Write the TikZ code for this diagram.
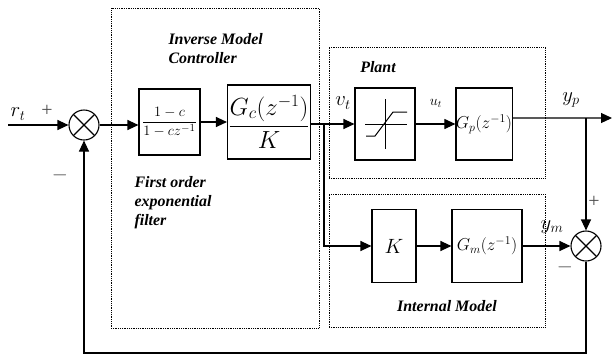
\documentclass[tikz,border=0pt]{standalone}
\usepackage{fontspec}
\setmainfont{Liberation Serif}
\usetikzlibrary{arrows.meta,positioning}

\begin{document}
\begin{tikzpicture}[
  x=1bp,y=-1bp,
  blk/.style={rectangle,draw,line width=1.1bp,inner sep=1bp},
  group/.style={rectangle,draw,densely dotted,line width=0.8bp},
  sumnode/.style={circle,draw,line width=1.1bp,minimum size=30bp,inner sep=0pt,
    path picture={\draw[line width=1.1bp]
      (path picture bounding box.north west) -- (path picture bounding box.south east)
      (path picture bounding box.north east) -- (path picture bounding box.south west);}},
  lbl/.style={font=\fontsize{16}{19}\selectfont\bfseries\itshape,align=left},
  sig/.style={font=\fontsize{20}{22}\selectfont},
  sign/.style={font=\fontsize{20}{22}\selectfont,text=black!70},
  arr/.style={-{Triangle[length=11bp,width=10bp]},line width=1.1bp}
]
  \useasboundingbox (0,0) rectangle (612,356);

  \node[group,minimum width=208bp,minimum height=320bp] (ctrl) at (215,168) {};
  \node[group,minimum width=216bp,minimum height=131bp] (plant) at (437,112.5) {};
  \node[group,minimum width=216bp,minimum height=133bp] (imodel) at (437,260.5) {};

  \node[sumnode] (sum1) at (84,125) {};
  \node[blk,minimum width=61bp,minimum height=66bp,font=\fontsize{15}{17}\selectfont] (filt) at (169.5,122)
    {$\displaystyle\frac{1-c}{1-cz^{-1}}$};
  \node[blk,minimum width=80bp,minimum height=74bp,font=\fontsize{23}{25}\selectfont] (gc) at (269,122)
    {$\displaystyle\frac{G_c(z^{-1})}{K}$};
  \node[blk,minimum width=60bp,minimum height=72bp] (sat) at (385,124) {};
  \node[blk,minimum width=54bp,minimum height=72bp,inner sep=0pt,font=\fontsize{18}{20}\selectfont] (gp) at (484,124)
    {$G_p(z^{-1})$};
  \node[blk,minimum width=44bp,minimum height=73bp,font=\fontsize{20}{22}\selectfont] (kb) at (394,246) {$K$};
  \node[blk,minimum width=70bp,minimum height=73bp,inner sep=0pt,font=\fontsize{18}{20}\selectfont] (gm) at (487,246)
    {$G_m(z^{-1})$};
  \node[sumnode] (sum2) at (586,246) {};

  \draw[line width=1bp] ([shift={(0,-25)}]sat.center) -- ([shift={(0,25)}]sat.center);
  \draw[line width=1bp] ([shift={(-20,0)}]sat.center) -- ([shift={(22,0)}]sat.center);
  \draw[line width=1bp] ([shift={(-19,12)}]sat.center) -- ++(9,0) -- ++(18,-24) -- ++(14,0);

  \coordinate (rin) at (8,125);
  \coordinate (split) at (324,124);
  \coordinate (yout) at (612,118);
  \coordinate (ybr) at (586,118);
  \coordinate (fb) at (83,353);

  \draw[arr] (rin) -- (sum1);
  \draw[arr] (sum1) -- (sum1 -| filt.west);
  \draw[arr] (filt) -- (gc);
  \draw[arr] (gc.east |- sat) -- (sat);
  \draw[arr] (split) |- (kb);
  \draw[arr] (sat) -- (gp);
  \draw[arr] ([yshift=6bp]gp.east) -- (yout);
  \draw[arr] (ybr) -- (sum2);
  \draw[arr] (kb) -- (gm);
  \draw[arr] (gm) -- (sum2);
  \draw[arr] (sum2) -- (sum2 |- fb) -| (sum1);

  \node[sig] (rlab) at (18,114) {$r_t$};
  \node[sign] (p1) at (47,111) {+};
  \node[sign] (m1) at (60,175) {$-$};
  \node[sig] (vlab) at (343,103) {$v_t$};
  \node[font=\fontsize{14}{16}\selectfont] (ulab) at (436,103) {$u_t$};
  \node[sig] (yplab) at (571,100) {$y_p$};
  \node[sig] (ymlab) at (552,227) {$y_m$};
  \node[sign] (p2) at (594,202) {+};
  \node[sign] (m2) at (565,267) {$-$};

  \node[lbl,anchor=north west] (ctitle) at (165,30) {Inverse Model\\Controller};
  \node[lbl] (ptitle) at (378,67) {Plant};
  \node[lbl,anchor=north west] (ftitle) at (131,173) {First order\\exponential\\filter};
  \node[lbl] (ititle) at (447,306) {Internal Model};
\end{tikzpicture}
\end{document}
